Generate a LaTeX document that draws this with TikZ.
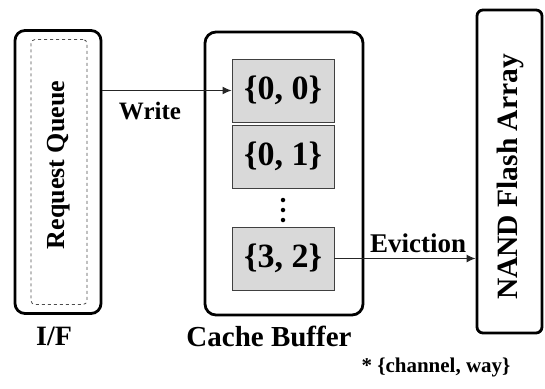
\documentclass[tikz,border=0pt]{standalone}
\usepackage{fontspec}
\setmainfont{Liberation Serif}
\usetikzlibrary{arrows.meta}
\begin{document}
\begin{tikzpicture}[x=1pt,y=-1pt,
  outerbox/.style={draw=black,line width=2.8pt,rounded corners=9pt},
  cell/.style={draw=black!75,line width=0.9pt,fill=black!15,minimum width=102pt,minimum height=63pt,inner sep=0pt,font=\fontsize{34}{36}\selectfont\bfseries},
  lbl/.style={inner sep=0pt,font=\bfseries},
  dotmark/.style={circle,fill=black,inner sep=0pt,minimum size=4.5pt},
  conn/.style={draw=black!85,line width=1.2pt,-{Latex[length=9pt,width=8pt]}}]
\useasboundingbox (0,0) rectangle (545,388);
% I/F
\node[outerbox,rounded corners=10pt,minimum width=86pt,minimum height=283pt,inner sep=0pt] (if) at (58,172) {};
\node[draw=black!70,dashed,line width=0.8pt,rounded corners=4pt,minimum width=56pt,minimum height=265pt,inner sep=0pt] (rq) at (59,172) {};
\node[lbl,rotate=90,font=\fontsize{26}{28}\selectfont\bfseries] (rqt) at (59,165) {Request Queue};
% Cache buffer
\node[outerbox,rounded corners=11pt,minimum width=158pt,minimum height=283pt,inner sep=0pt] (cb) at (284,173.5) {};
\node[cell] (c00) at (283,90.5) {\{0, 0\}};
\node[cell] (c01) at (283,156.5) {\{0, 1\}};
\node[cell] (c32) at (283,258.5) {\{3, 2\}};
\node[dotmark] (d1) at (283,200) {};
\node[dotmark] (d2) at (283,210) {};
\node[dotmark] (d3) at (283,220) {};
% NAND
\node[outerbox,rounded corners=6pt,minimum width=65pt,minimum height=323pt,inner sep=0pt] (nand) at (509.5,171.5) {};
\node[lbl,rotate=90,font=\fontsize{29.5}{31}\selectfont\bfseries] (nandt) at (510,177) {NAND Flash Array};
% connectors
\draw[conn] (if.east |- c00.west) -- (c00.west);
\node[lbl,font=\fontsize{25}{27}\selectfont\bfseries] (wr) at (150,111) {Write};
\draw[conn] (c32.east) -- (nand.west |- c32.east);
\node[lbl,font=\fontsize{27}{29}\selectfont\bfseries] (ev) at (418,243) {Eviction};
% labels
\node[lbl,font=\fontsize{28}{30}\selectfont\bfseries] (ift) at (54,336) {I/F};
\node[lbl,font=\fontsize{29}{31}\selectfont\bfseries] (cbt) at (269,336) {Cache Buffer};
\node[lbl,font=\fontsize{21}{23}\selectfont\bfseries] (note) at (436,367) {* \{channel, way\}};
\end{tikzpicture}
\end{document}
